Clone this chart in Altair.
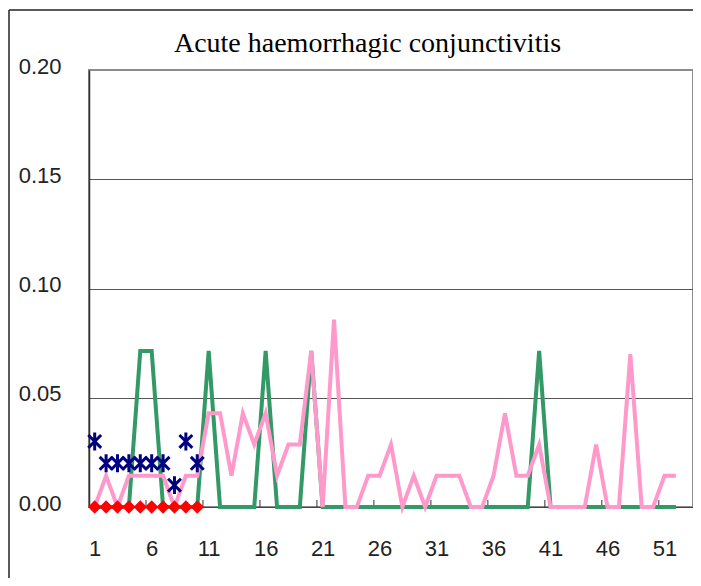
import altair as alt
import pandas as pd

# ---- data ----
weeks = list(range(1, 53))
green_vals = [0, 0, 0, 0, 0.0714, 0.0714, 0, 0, 0, 0,
              0.0714, 0, 0, 0, 0, 0.0714, 0, 0, 0, 0.0714,
              0, 0, 0, 0, 0, 0, 0, 0, 0, 0,
              0, 0, 0, 0, 0, 0, 0, 0, 0, 0.0714,
              0, 0, 0, 0, 0, 0, 0, 0, 0, 0,
              0, 0]
pink_vals = [0, 0.0143, 0, 0.0143, 0.0143, 0.0143, 0.0143, 0, 0.0143, 0.0143,
             0.0429, 0.0429, 0.0143, 0.0429, 0.0286, 0.0429, 0.0143, 0.0286, 0.0286, 0.0714,
             0, 0.0857, 0, 0, 0.0143, 0.0143, 0.0286, 0, 0.0143, 0,
             0.0143, 0.0143, 0.0143, 0, 0, 0.0143, 0.0429, 0.0143, 0.0143, 0.0286,
             0, 0, 0, 0, 0.0286, 0, 0, 0.0700, 0, 0,
             0.0143, 0.0143]
star_weeks = list(range(1, 11))
star_vals = [0.03, 0.02, 0.02, 0.02, 0.02, 0.02, 0.02, 0.01, 0.03, 0.02]
diamond_weeks = list(range(1, 11))
diamond_vals = [0, 0, 0, 0, 0, 0, 0, 0, 0, 0]
x_labels = [1, 6, 11, 16, 21, 26, 31, 36, 41, 46, 51]
y_ticks = [0.0, 0.05, 0.10, 0.15, 0.20]
tick_marks = [5.5, 10.5, 15.5, 20.5, 25.5, 30.5, 35.5, 40.5, 45.5, 50.5]
title_text = "Acute haemorrhagic conjunctivitis"

PAD_L, PAD_T = 81, 62
W, H = 604, 437

line_df = pd.DataFrame({"week": weeks, "green": green_vals, "pink": pink_vals})
star_df = pd.DataFrame({"week": star_weeks, "value": star_vals})
diamond_df = pd.DataFrame({"week": diamond_weeks, "value": diamond_vals})
tick_df = pd.DataFrame({"pos": tick_marks})
title_df = pd.DataFrame({"t": [title_text]})
one_df = pd.DataFrame({"a": [0]})

x_scale = alt.Scale(domain=[0.5, 53.5], nice=False, zero=False)
y_scale = alt.Scale(domain=[0, 0.2], nice=False)

LABEL_FONT = "Liberation Sans"

x_axis = alt.Axis(values=x_labels, ticks=False, grid=False, title=None,
                  labelFont=LABEL_FONT, labelFontSize=22, labelColor="#222222",
                  labelBaseline="alphabetic", labelPadding=48,
                  labelFlush=False, labelOverlap=False,
                  domainColor="#444444", domainWidth=1)
y_axis = alt.Axis(values=y_ticks, format=".2f", ticks=False, grid=True, title=None,
                  gridColor={"condition": {"test": "datum.value >= 0.19", "value": "#8c8c8c"},
                             "value": "#555555"},
                  gridWidth=1,
                  labelFont=LABEL_FONT, labelFontSize=22, labelColor="#222222",
                  labelBaseline="alphabetic", labelOffset=3, labelPadding=28,
                  labelFlush=False, labelOverlap=False,
                  domainColor="#333333", domainWidth=1.5)

green = alt.Chart(line_df).mark_line(color="#339966", strokeWidth=4).encode(
    x=alt.X("week:Q", scale=x_scale, axis=x_axis),
    y=alt.Y("green:Q", scale=y_scale, axis=y_axis),
)
pink = alt.Chart(line_df).mark_line(color="#FF99CC", strokeWidth=4).encode(
    x=alt.X("week:Q", scale=x_scale),
    y=alt.Y("pink:Q", scale=y_scale),
)
stars = alt.Chart(star_df).mark_point(
    shape="M0,-1L0,1M-0.72,-0.72L0.72,0.72M-0.72,0.72L0.72,-0.72",
    filled=False, size=320, strokeWidth=3, color="#000080", opacity=1,
).encode(
    x=alt.X("week:Q", scale=x_scale),
    y=alt.Y("value:Q", scale=y_scale),
)
diamonds = alt.Chart(diamond_df).mark_point(
    shape="diamond", filled=True, size=180, color="#FF0000", opacity=1,
).encode(
    x=alt.X("week:Q", scale=x_scale),
    y=alt.Y("value:Q", scale=y_scale),
)
ticks = alt.Chart(tick_df).mark_rule(color="#333333", strokeWidth=1).encode(
    x=alt.X("pos:Q", scale=x_scale),
    y=alt.value(H - 7),
    y2=alt.value(H),
)
frame_left = alt.Chart(one_df).mark_rule(color="#222222", strokeWidth=1.5).encode(
    x=alt.value(-PAD_L + 1), y=alt.value(-PAD_T + 2), y2=alt.value(H + 120),
)
frame_top = alt.Chart(one_df).mark_rule(color="#222222", strokeWidth=1.5).encode(
    x=alt.value(-PAD_L + 1), x2=alt.value(W + 40), y=alt.value(-PAD_T + 2),
)
title = alt.Chart(title_df).mark_text(
    font="Liberation Serif", fontSize=28, color="#000000",
    align="center", baseline="alphabetic",
).encode(
    text="t:N",
    x=alt.value(367.5 - 8 - PAD_L),
    y=alt.value(52 - 8 - PAD_T),
)

chart = alt.layer(frame_left, frame_top, ticks, green, pink, stars, diamonds, title).properties(
    width=W, height=H,
    autosize=alt.AutoSizeParams(type="none"),
    padding={"left": PAD_L, "top": PAD_T, "right": 0, "bottom": 71},
).configure_view(stroke="#8c8c8c", strokeWidth=2)

chart.save("out.html", embed_options={"renderer": "svg", "actions": False})
